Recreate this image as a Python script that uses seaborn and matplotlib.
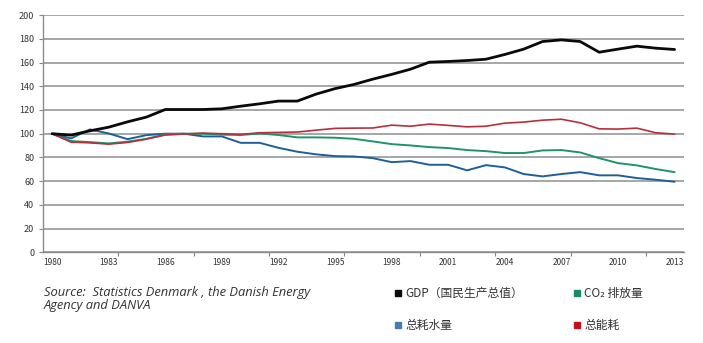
import numpy as np
import pandas as pd
import matplotlib
matplotlib.use("Agg")
import matplotlib.pyplot as plt
from matplotlib.lines import Line2D
import seaborn as sns

years = list(range(1980, 2014))

gdp = [100, 98.8, 102.4, 105.5, 110.0, 114.0, 120.4, 120.4, 120.4, 121.0,
       123.2, 125.2, 127.5, 127.5, 133.4, 138.0, 141.5, 146.0, 150.0, 154.4,
       160.3, 160.9, 161.7, 162.8, 166.8, 171.3, 177.7, 179.1, 177.7, 168.7,
       171.3, 173.8, 172.1, 171.0]
co2 = [100, 93.8, 92.9, 91.8, 93.3, 95.7, 99.4, 100.0, 100.0, 99.2,
       98.9, 100.2, 98.9, 96.9, 96.9, 96.6, 95.7, 93.5, 91.2, 90.1,
       88.7, 87.9, 86.2, 85.3, 83.7, 83.7, 85.9, 86.2, 84.2, 79.4,
       75.2, 73.3, 70.2, 67.6]
water = [100, 96.0, 103.6, 100.2, 95.4, 98.8, 100.0, 100.0, 97.7, 97.7,
         92.3, 92.3, 88.1, 84.8, 82.6, 81.1, 80.8, 79.4, 76.0, 76.9,
         73.8, 73.8, 69.1, 73.5, 71.6, 66.0, 64.0, 66.0, 67.6, 64.9,
         64.9, 62.6, 61.2, 59.5]
energy = [100, 92.9, 92.3, 91.2, 92.6, 95.4, 98.9, 99.7, 100.5, 100.0,
          99.4, 100.8, 101.1, 101.4, 103.0, 104.5, 104.7, 104.8, 107.2, 106.3,
          108.1, 107.0, 105.8, 106.3, 108.9, 109.8, 111.4, 112.2, 109.2, 104.1,
          103.9, 104.7, 100.8, 99.7]

names = ["GDP（国民生产总值）", "CO₂ 排放量", "总耗水量", "总能耗"]
line_colors = {"GDP（国民生产总值）": "#0a0a0a", "CO₂ 排放量": "#1f9468",
               "总耗水量": "#1f5f98", "总能耗": "#b5303c"}
legend_colors = {"GDP（国民生产总值）": "#0a0a0a", "CO₂ 排放量": "#1a8a60",
                 "总耗水量": "#4a7ab0", "总能耗": "#c0141c"}
line_widths = {"GDP（国民生产总值）": 2.0, "CO₂ 排放量": 1.4,
               "总耗水量": 1.4, "总能耗": 1.2}
xtick_years = list(range(1980, 2014, 3))
ytick_vals = list(range(0, 201, 20))

df = pd.DataFrame({
    "year": years * 4,
    "value": gdp + co2 + water + energy,
    "series": sum([[n] * len(years) for n in names], []),
})

sns.set_theme(style="white")
plt.rcParams["font.family"] = ["Noto Sans CJK SC", "DejaVu Sans"]

fig = plt.figure(figsize=(7.03, 3.43), dpi=100)
ax = fig.add_axes([0.0607, 0.2644, 0.9123, 0.6916])

# horizontal gridlines behind the data
for v in ytick_vals:
    ax.axhline(v, color="#a6a6a6", lw=1.4, zorder=0)

draw_order = ["总耗水量", "CO₂ 排放量", "总能耗", "GDP（国民生产总值）"]
for n in draw_order:
    sns.lineplot(data=df[df["series"] == n], x="year", y="value",
                 color=line_colors[n], lw=line_widths[n], ax=ax,
                 legend=False, zorder=3)

ax.set_xlim(1979.5, 2013.5)
ax.set_ylim(0, 200)
ax.set_xlabel("")
ax.set_ylabel("")
ax.set_xticks(xtick_years)
ax.set_xticklabels([str(y) for y in xtick_years], fontsize=6, color="#333333")
ax.set_xticks(np.arange(1983.5, 2013, 4), minor=True)
ax.set_yticks(ytick_vals)
ax.set_yticklabels([str(v) for v in ytick_vals], fontsize=6.5, color="#333333")
ax.tick_params(axis="x", which="major", length=0, pad=4)
ax.tick_params(axis="x", which="minor", length=3, width=0.8, color="#888888",
               direction="out", bottom=True)
ax.tick_params(axis="y", length=3, width=0.8, color="#888888", left=True, pad=3)

for side in ["top", "right"]:
    ax.spines[side].set_visible(False)
for side in ["left", "bottom"]:
    ax.spines[side].set_color("#8c8c8c")
    ax.spines[side].set_linewidth(1.0)
ax.spines["bottom"].set_zorder(1)

fig.text(0.0626, 0.128, "Source:  Statistics Denmark , the Danish Energy\nAgency and DANVA",
         fontsize=9.3, style="italic", color="#333333", family=["Open Sans", "DejaVu Sans"],
         va="center", ha="left", linespacing=0.95)

handle_order = ["GDP（国民生产总值）", "总耗水量", "CO₂ 排放量", "总能耗"]
handles = [Line2D([0], [0], marker="s", linestyle="none", markersize=5,
                  markerfacecolor=legend_colors[n], markeredgecolor=legend_colors[n])
           for n in handle_order]
fig.legend(handles, handle_order, loc="center left", bbox_to_anchor=(0.546, 0.097),
           ncol=2, frameon=False, fontsize=8.5, handlelength=0.6, handletextpad=0.3,
           columnspacing=4.3, labelspacing=1.6, labelcolor="#333333")

fig.savefig("out.png", dpi=100)
